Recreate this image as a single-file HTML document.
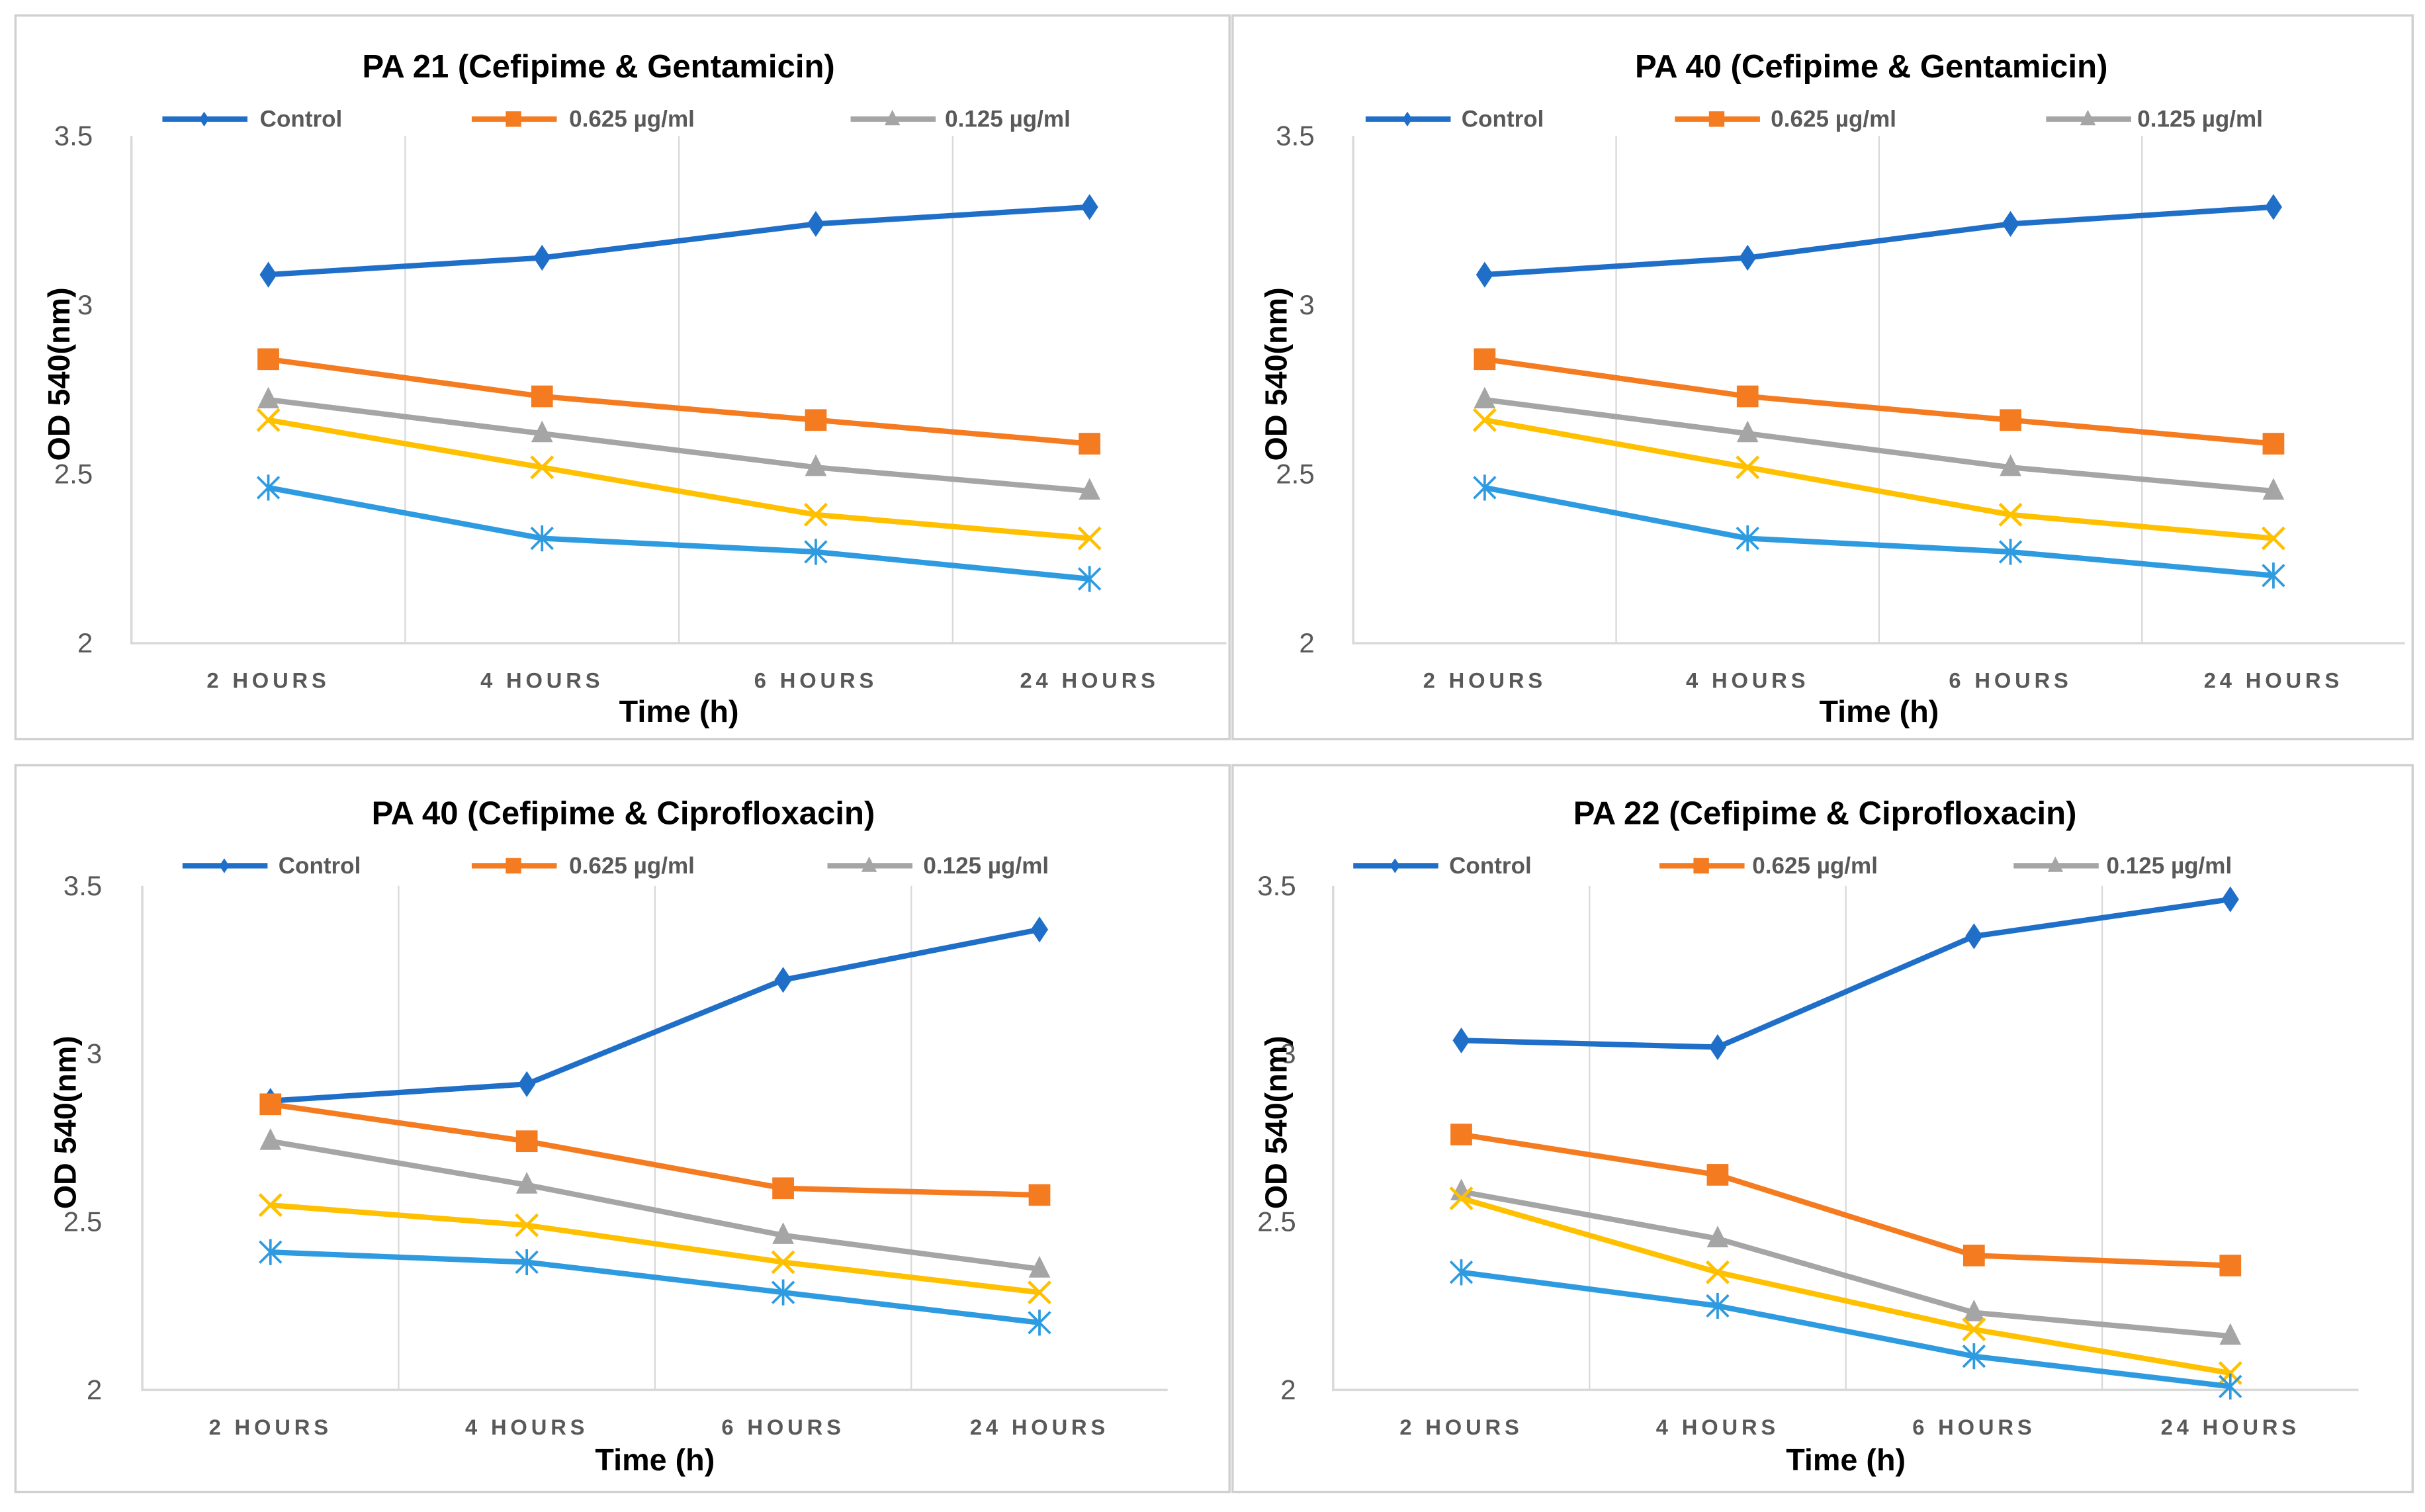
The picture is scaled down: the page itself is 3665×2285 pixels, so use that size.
<!DOCTYPE html>
<html><head><meta charset="utf-8"><style>
html,body{margin:0;padding:0;background:#fff;}
svg{display:block;font-family:"Liberation Sans",sans-serif;}
</style></head><body>
<svg id="chart" width="3665" height="2285" viewBox="0 0 1568 978" preserveAspectRatio="none" xmlns="http://www.w3.org/2000/svg"></svg>
<script>
const categories = ["2 HOURS","4 HOURS","6 HOURS","24 HOURS"];
const yTicks = [2, 2.5, 3, 3.5];
const yTickLabels = ["2","2.5","3","3.5"];
const seriesNames = ["Control","0.625 µg/ml","0.125 µg/ml","s4","s5"];
const titles = ["PA 21 (Cefipime & Gentamicin)","PA 40 (Cefipime & Gentamicin)","PA 40 (Cefipime & Ciprofloxacin)","PA 22 (Cefipime & Ciprofloxacin)"];
const p1Control = [3.09,3.14,3.24,3.29];
const p1Orange = [2.84,2.73,2.66,2.59];
const p1Gray = [2.72,2.62,2.52,2.45];
const p1Yellow = [2.66,2.52,2.38,2.31];
const p1Blue = [2.46,2.31,2.27,2.19];
const p2Control = [3.09,3.14,3.24,3.29];
const p2Orange = [2.84,2.73,2.66,2.59];
const p2Gray = [2.72,2.62,2.52,2.45];
const p2Yellow = [2.66,2.52,2.38,2.31];
const p2Blue = [2.46,2.31,2.27,2.20];
const p3Control = [2.86,2.91,3.22,3.37];
const p3Orange = [2.85,2.74,2.60,2.58];
const p3Gray = [2.74,2.61,2.46,2.36];
const p3Yellow = [2.55,2.49,2.38,2.29];
const p3Blue = [2.41,2.38,2.29,2.20];
const p4Control = [3.04,3.02,3.35,3.46];
const p4Orange = [2.76,2.64,2.40,2.37];
const p4Gray = [2.59,2.45,2.23,2.16];
const p4Yellow = [2.57,2.35,2.18,2.05];
const p4Blue = [2.35,2.25,2.10,2.01];

const NS="http://www.w3.org/2000/svg";
const svg=document.getElementById('chart');
function mk(tag,attrs,parent){const e=document.createElementNS(NS,tag);for(const k in attrs)e.setAttribute(k,attrs[k]);(parent||svg).appendChild(e);return e;}
const colors=["#1f6fc9","#f47b20","#a5a5a5","#ffc000","#2e9be0"];
const markers=["diamond","square","triangle","x","star"];

const panels=[
 {box:[10,10,785,468],px0:85,px1:793,py0:416,py1:88,ylx:60,ytx:38,tx:387,ty:42,ly:77,leg:[[105,168],[305,368],[550,611]],xly:440,xty:460,data:[p1Control,p1Orange,p1Gray,p1Yellow,p1Blue]},
 {box:[797,10,763,468],px0:875,px1:1555,py0:416,py1:88,ylx:850,ytx:825,tx:1210,ty:42,ly:77,leg:[[883,945],[1083,1145],[1323,1382]],xly:440,xty:460,data:[p2Control,p2Orange,p2Gray,p2Yellow,p2Blue]},
 {box:[10,495,785,470],px0:92,px1:755,py0:899,py1:573,ylx:66,ytx:42,tx:403,ty:525,ly:560,leg:[[118,180],[305,368],[535,597]],xly:923,xty:944,data:[p3Control,p3Orange,p3Gray,p3Yellow,p3Blue]},
 {box:[797,495,763,470],px0:862,px1:1525,py0:899,py1:573,ylx:838,ytx:825,tx:1180,ty:525,ly:560,leg:[[875,937],[1073,1133],[1302,1362]],xly:923,xty:944,data:[p4Control,p4Orange,p4Gray,p4Yellow,p4Blue]}
];

function marker(g,type,x,y,c,s){
 if(type==="diamond")mk('polygon',{points:`${x},${y-s*1.2} ${x+s*0.8},${y} ${x},${y+s*1.2} ${x-s*0.8},${y}`,fill:c},g);
 else if(type==="square")mk('rect',{x:x-s,y:y-s,width:2*s,height:2*s,fill:c},g);
 else if(type==="triangle")mk('polygon',{points:`${x},${y-s*1.2} ${x+s},${y+s*0.8} ${x-s},${y+s*0.8}`,fill:c},g);
 else if(type==="x"){mk('path',{d:`M${x-s} ${y-s}L${x+s} ${y+s}M${x+s} ${y-s}L${x-s} ${y+s}`,stroke:c,'stroke-width':2,fill:'none'},g);}
 else {mk('path',{d:`M${x-s} ${y-s}L${x+s} ${y+s}M${x+s} ${y-s}L${x-s} ${y+s}M${x} ${y-s*1.2}L${x} ${y+s*1.2}`,stroke:c,'stroke-width':1.6,fill:'none'},g);}
}

panels.forEach((p,pi)=>{
 const g=mk('g',{});
 
 
 const b=mk('rect',{x:p.box[0],y:p.box[1],width:p.box[2],height:p.box[3],fill:'#fff',stroke:'#d0d0d0','stroke-width':1.5},g);
 
 
 const cw=(p.px1-p.px0)/categories.length;
 const xs=i=>p.px0+cw*(i+0.5);
 const ys=v=>p.py0+(v-yTicks[0])/(yTicks[yTicks.length-1]-yTicks[0])*(p.py1-p.py0);
 for(let i=1;i<categories.length;i++){
  const l=mk('line',{x1:p.px0+cw*i,x2:p.px0+cw*i,y1:p.py1,y2:p.py0,stroke:'#d9d9d9','stroke-width':1},g);
  
  
 }
 const ax=mk('path',{d:`M${p.px0} ${p.py1}L${p.px0} ${p.py0}L${p.px1} ${p.py0}`,stroke:'#d9d9d9','stroke-width':1.5,fill:'none'},g);
 
 
 yTicks.forEach((v,i)=>{
  const t=mk('text',{x:p.ylx,y:ys(v)+6,'text-anchor':'end','font-size':18,fill:'#595959'},g);
  t.textContent=yTickLabels[i];
  
  
 });
 categories.forEach((c,i)=>{
  const t=mk('text',{x:xs(i),y:p.xly+5,'text-anchor':'middle','font-size':14,'font-weight':'bold','letter-spacing':2.5,fill:'#595959'},g);
  t.textContent=c;
  
  
 });
 const xt=mk('text',{x:(p.px0+p.px1)/2,y:p.xty+7,'text-anchor':'middle','font-size':20,'font-weight':'bold',fill:'#000'},g);
 xt.textContent="Time (h)";
 
 
 const cy=(p.py0+p.py1)/2-10;
 const yt=mk('text',{x:p.ytx+7,y:cy,'text-anchor':'middle','font-size':20,'font-weight':'bold',fill:'#000',transform:`rotate(-90 ${p.ytx+7} ${cy})`},g);
 yt.textContent="OD 540(nm)";
 
 
 const tt=mk('text',{x:p.tx,y:p.ty+8,'text-anchor':'middle','font-size':21,'font-weight':'bold',fill:'#000'},g);
 tt.textContent=titles[pi];
 
 
 p.leg.forEach((lg,li)=>{
  const lgG=mk('g',{},g);
  
  
  mk('line',{x1:lg[0],x2:lg[0]+55,y1:p.ly,y2:p.ly,stroke:colors[li],'stroke-width':3.5},lgG);
  marker(lgG,markers[li],lg[0]+27,p.ly,colors[li],li===0?4:5);
  const t=mk('text',{x:lg[1],y:p.ly+5,'font-size':15,'font-weight':'bold',fill:'#595959'},lgG);
  t.textContent=seriesNames[li];
 });
 p.data.forEach((arr,si)=>{
  const sg=mk('g',{},g);
  
  
  mk('polyline',{points:arr.map((v,i)=>xs(i)+','+ys(v)).join(' '),fill:'none',stroke:colors[si],'stroke-width':3.5,'stroke-linejoin':'round'},sg);
  arr.forEach((v,i)=>marker(sg,markers[si],xs(i),ys(v),colors[si],si===0?7:7));
 });
});
</script>
</body></html>
